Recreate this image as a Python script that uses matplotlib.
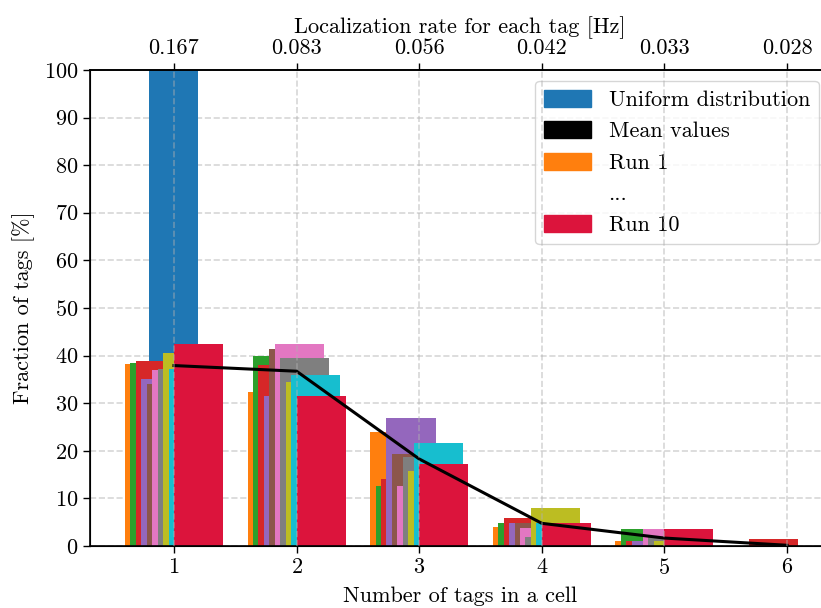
import matplotlib
matplotlib.use("Agg")
import matplotlib.pyplot as plt
import numpy as np
from matplotlib.patches import Patch

plt.rcParams["font.family"] = "serif"
plt.rcParams["font.serif"] = ["cmr10", "DejaVu Serif"]
plt.rcParams["mathtext.fontset"] = "cm"
plt.rcParams["axes.formatter.use_mathtext"] = True
plt.rcParams["font.size"] = 16

# number of tags in a cell
tags = [1, 2, 3, 4, 5, 6]
uniform = [100, 0, 0, 0, 0, 0]

# fraction of tags [%] per run
run_1 = [38.2, 32.4, 24.0, 4.0, 1.05, 0]
run_2 = [38.5, 40.0, 12.6, 4.8, 3.6, 0]
run_3 = [38.9, 38.0, 14.1, 5.9, 1.0, 1.5]
run_4 = [35.1, 31.5, 26.9, 4.8, 1.0, 0]
run_5 = [34.0, 41.4, 19.3, 4.8, 0, 0]
run_6 = [37.0, 42.4, 12.6, 3.8, 3.6, 0]
run_7 = [37.2, 39.5, 18.7, 1.9, 1.8, 0]
run_8 = [40.5, 34.5, 15.8, 8.0, 1.0, 0]
run_9 = [37.2, 35.9, 21.6, 4.8, 0, 0]
run_10 = [42.4, 31.5, 17.2, 4.8, 3.6, 0]

runs = [run_1, run_2, run_3, run_4, run_5, run_6, run_7, run_8, run_9, run_10]
run_colors = ["tab:orange", "tab:green", "tab:red", "tab:purple", "tab:brown",
              "tab:pink", "tab:gray", "tab:olive", "tab:cyan", "crimson"]

x = np.array(tags, dtype=float)
width = 0.4
step = width / 9

fig = plt.figure(figsize=(8.21, 6.08), dpi=100)
ax = fig.add_axes([0.1096, 0.102, 0.9013, 0.783])

ax.bar(x, uniform, width=width, color="tab:blue", zorder=1)
for k, (vals, col) in enumerate(zip(runs, run_colors)):
    ax.bar(x - width + k * step, vals, width=width, align="edge", color=col, zorder=1)

mean_vals = np.mean(np.array(runs), axis=0)
ax.plot(x, mean_vals, color="black", lw=2.2, zorder=3)

ax.set_xlim(0.315, 6.35)
ax.set_ylim(0, 100)
ax.set_xticks(tags)
ax.set_yticks(np.arange(0, 101, 10))
ax.set_axisbelow(True)
ax.yaxis.grid(True, ls="--", color="#b0b0b0", alpha=0.5, lw=1.2)
ax.set_xlabel("Number of tags in a cell", labelpad=6)
ax.set_ylabel("Fraction of tags [%]", labelpad=6)
ax.spines["right"].set_visible(False)
for s in ["left", "bottom", "top"]:
    ax.spines[s].set_linewidth(1.2)
ax.tick_params(direction="out", length=5, width=1)

handles = [Patch(color="tab:blue"), Patch(color="black"), Patch(color="tab:orange"),
           Patch(facecolor="none", edgecolor="none"), Patch(color="crimson")]
labels = ["Uniform distribution", "Mean values", "Run 1", "...", "Run 10"]
ax.legend(handles, labels, loc="upper right", handlelength=2.1, handleheight=0.8,
          handletextpad=0.8, labelspacing=0.5, borderaxespad=0.5, fancybox=True)

# top axis: localization rate for each tag
ax2 = ax.twiny()
ax2.set_xlim(ax.get_xlim())
ax2.set_xticks(tags)
ax2.set_xticklabels([f"{1 / (6 * n):.3f}" for n in tags])
ax2.set_xlabel("Localization rate for each tag [Hz]", labelpad=4)
ax2.spines["right"].set_visible(False)
ax2.spines["top"].set_linewidth(1.2)
ax2.tick_params(direction="out", length=5, width=1)
ax2.xaxis.grid(True, ls="--", color="#b0b0b0", alpha=0.5, lw=1.2)

fig.savefig("out.png", dpi=100)
